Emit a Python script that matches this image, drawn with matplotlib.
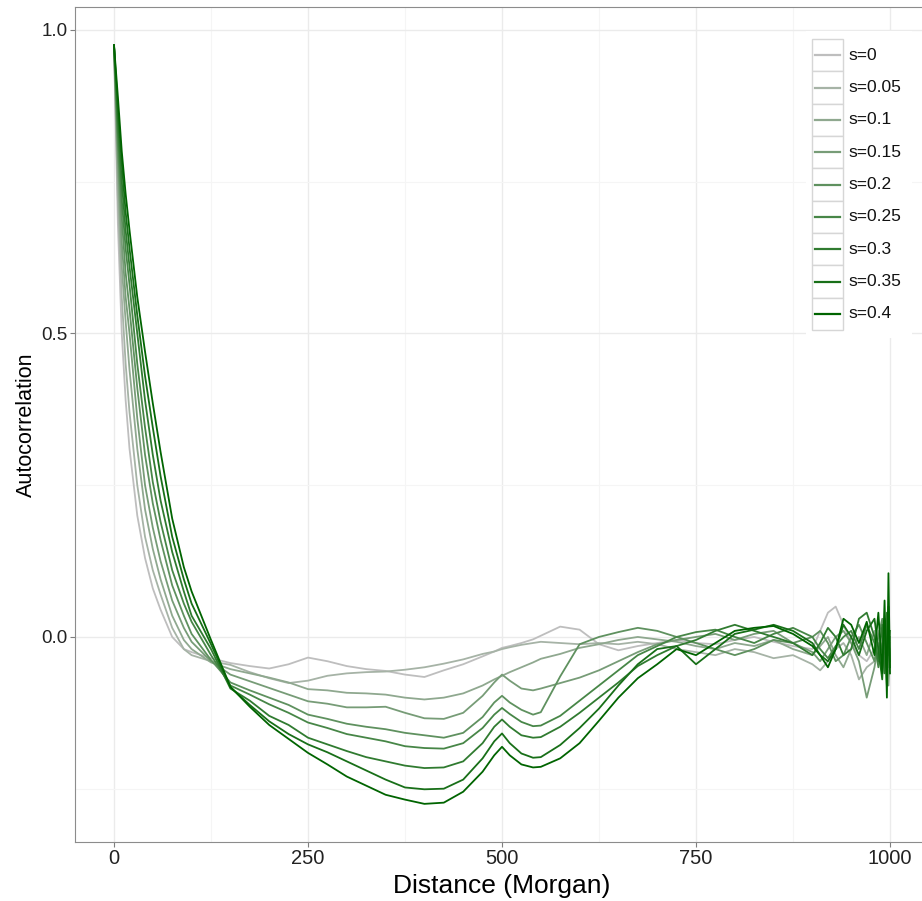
import matplotlib
matplotlib.use('Agg')
from matplotlib import pyplot as plt
from matplotlib.patches import Rectangle
from matplotlib.lines import Line2D
import numpy as np

plt.rcParams['font.family'] = ['Liberation Sans', 'DejaVu Sans']

# distance in Morgan (shared x positions of all curves)
distance = [0, 5, 10, 15, 20, 30, 40, 50, 60, 75, 90, 100, 125, 150, 175, 200,
            225, 250, 275, 300, 325, 350, 375, 400, 425, 450, 475, 490, 500,
            510, 525, 540, 550, 575, 600, 625, 650, 675, 700, 725, 750,
            775, 800, 825, 850, 875, 900,
            910, 920, 930, 940, 950, 960, 970, 980, 985, 990, 993, 996, 998, 1000]

s_labels = ['s=0', 's=0.05', 's=0.1', 's=0.15', 's=0.2', 's=0.25', 's=0.3', 's=0.35', 's=0.4']

acf_s0 = [0.975, 0.68, 0.50, 0.39, 0.31, 0.20, 0.13, 0.08, 0.045, 0.0, -0.02, -0.025, -0.035, -0.043, -0.048, -0.052,
          -0.045, -0.034, -0.04, -0.048, -0.053, -0.056, -0.062, -0.066, -0.055, -0.045, -0.032, -0.024, -0.018,
          -0.015, -0.01, -0.004, 0.002, 0.017, 0.012, -0.012, -0.022, -0.015, -0.01, -0.005, -0.01,
          -0.012, -0.005, 0.0, -0.008, -0.015, -0.02,
          0.01, 0.04, 0.05, 0.02, -0.01, -0.03, -0.04, -0.02, 0.01, -0.03, 0.02, -0.06, 0.0, -0.02]
acf_s005 = [0.975, 0.72, 0.56, 0.45, 0.37, 0.25, 0.165, 0.11, 0.07, 0.015, -0.02, -0.03, -0.04, -0.046, -0.058, -0.068,
            -0.076, -0.072, -0.064, -0.06, -0.058, -0.057, -0.054, -0.05, -0.044, -0.037, -0.028, -0.024, -0.02,
            -0.017, -0.013, -0.01, -0.008, -0.01, -0.012, -0.01, -0.012, -0.008, -0.012, -0.02, -0.025,
            -0.03, -0.02, -0.025, -0.035, -0.03, -0.045,
            -0.055, -0.04, -0.02, -0.01, -0.03, -0.07, -0.05, -0.04, -0.02, -0.01, -0.05, 0.0, -0.03, -0.01]
acf_s01 = [0.975, 0.76, 0.61, 0.52, 0.44, 0.31, 0.21, 0.145, 0.095, 0.035, -0.005, -0.02, -0.042, -0.053, -0.06, -0.067,
           -0.075, -0.086, -0.088, -0.092, -0.093, -0.095, -0.1, -0.103, -0.1, -0.093, -0.08, -0.07, -0.064,
           -0.058, -0.05, -0.042, -0.036, -0.028, -0.018, -0.012, -0.005, 0.0, -0.004, -0.008, -0.015,
           -0.02, -0.01, -0.015, -0.005, -0.02, -0.03,
           -0.015, 0.0, -0.03, -0.05, -0.02, 0.0, -0.03, 0.01, -0.03, 0.015, -0.04, -0.02, 0.02, -0.03]
acf_s015 = [0.975, 0.79, 0.65, 0.56, 0.50, 0.36, 0.25, 0.18, 0.125, 0.06, 0.015, -0.008, -0.04, -0.062, -0.073, -0.084,
            -0.095, -0.106, -0.11, -0.116, -0.116, -0.115, -0.125, -0.134, -0.135, -0.125, -0.097, -0.075, -0.062,
            -0.072, -0.085, -0.088, -0.085, -0.076, -0.067, -0.055, -0.04, -0.025, -0.012, -0.005, 0.0,
            0.005, -0.005, 0.005, 0.01, -0.01, -0.025,
            -0.04, -0.02, 0.0, 0.01, -0.01, -0.04, -0.1, -0.05, -0.01, -0.06, 0.0, -0.04, -0.08, -0.02]
acf_s02 = [0.975, 0.81, 0.69, 0.60, 0.54, 0.41, 0.30, 0.22, 0.16, 0.085, 0.035, 0.005, -0.038, -0.075, -0.088, -0.1,
           -0.112, -0.128, -0.135, -0.143, -0.148, -0.152, -0.158, -0.162, -0.166, -0.158, -0.132, -0.108, -0.097,
           -0.108, -0.12, -0.128, -0.124, -0.065, -0.012, 0.0, 0.008, 0.015, 0.01, 0.0, -0.01,
           -0.02, -0.03, -0.02, -0.005, -0.01, 0.0,
           0.01, -0.01, -0.04, -0.03, 0.0, 0.02, -0.01, -0.04, 0.0, 0.03, -0.02, 0.01, -0.05, 0.0]
acf_s025 = [0.975, 0.83, 0.72, 0.64, 0.58, 0.45, 0.345, 0.255, 0.19, 0.11, 0.055, 0.025, -0.03, -0.08, -0.095, -0.111,
            -0.125, -0.141, -0.15, -0.16, -0.166, -0.172, -0.18, -0.183, -0.184, -0.175, -0.15, -0.128, -0.117,
            -0.127, -0.14, -0.147, -0.146, -0.13, -0.105, -0.08, -0.055, -0.03, -0.015, 0.0, 0.008,
            0.012, 0.0, -0.01, 0.005, 0.015, 0.0,
            -0.02, -0.035, -0.015, 0.0, 0.01, -0.02, 0.02, -0.01, -0.05, -0.01, 0.03, -0.03, 0.01, -0.04]
acf_s03 = [0.975, 0.85, 0.75, 0.67, 0.61, 0.50, 0.39, 0.30, 0.225, 0.14, 0.075, 0.035, -0.02, -0.085, -0.105, -0.13,
           -0.145, -0.166, -0.177, -0.188, -0.198, -0.205, -0.212, -0.216, -0.215, -0.205, -0.175, -0.148, -0.136,
           -0.148, -0.162, -0.166, -0.165, -0.148, -0.125, -0.1, -0.075, -0.048, -0.03, -0.015, -0.005,
           0.01, 0.02, 0.01, 0.0, -0.01, -0.03,
           -0.01, 0.015, 0.0, -0.03, -0.02, 0.03, 0.04, 0.0, -0.04, 0.02, -0.06, 0.04, -0.03, 0.01]
acf_s035 = [0.975, 0.87, 0.78, 0.70, 0.64, 0.53, 0.43, 0.345, 0.265, 0.165, 0.095, 0.055, -0.012, -0.083, -0.112, -0.139,
            -0.16, -0.177, -0.19, -0.205, -0.22, -0.235, -0.248, -0.251, -0.25, -0.235, -0.2, -0.172, -0.159,
            -0.175, -0.192, -0.199, -0.198, -0.178, -0.15, -0.118, -0.08, -0.045, -0.02, -0.015, -0.045,
            -0.02, 0.005, 0.012, 0.02, 0.01, -0.01,
            -0.03, -0.04, -0.02, 0.02, 0.0, -0.03, 0.01, 0.03, -0.02, -0.07, 0.03, -0.08, 0.05, -0.05]
acf_s04 = [0.975, 0.89, 0.80, 0.73, 0.67, 0.56, 0.47, 0.385, 0.305, 0.195, 0.115, 0.075, -0.005, -0.082, -0.115, -0.145,
           -0.168, -0.191, -0.21, -0.23, -0.245, -0.26, -0.268, -0.275, -0.273, -0.255, -0.222, -0.195, -0.181,
           -0.195, -0.21, -0.215, -0.214, -0.2, -0.175, -0.138, -0.1, -0.068, -0.045, -0.02, -0.03,
           -0.01, 0.01, 0.015, 0.018, 0.005, -0.015,
           -0.03, -0.05, -0.02, 0.03, 0.02, -0.01, 0.025, -0.03, 0.04, -0.06, 0.06, -0.1, 0.105, -0.06]

curves = [acf_s0, acf_s005, acf_s01, acf_s015, acf_s02, acf_s025, acf_s03, acf_s035, acf_s04]

# grey -> darkgreen gradient
low = np.array([190, 190, 190]) / 255.
high = np.array([0, 100, 0]) / 255.
colors = [tuple(low + (high - low) * t) for t in np.linspace(0, 1, len(curves))]

W, H = 922, 901
fig = plt.figure(figsize=(W / 100, H / 100), dpi=100)
ax = fig.add_axes([75.2 / W, 1 - 841.8 / H, (928.8 - 75.2) / W, (841.8 - 7.2) / H])

for ys, c in zip(curves, colors):
    ax.plot(distance, ys, color=c, lw=1.3, solid_joinstyle='round')

# ggplot style 5% expansion
xmin, xmax = min(distance), max(distance)
ymin = min(min(c) for c in curves)
ymax = max(max(c) for c in curves)
ax.set_xlim(xmin - 0.05 * (xmax - xmin), xmax + 0.05 * (xmax - xmin))
ax.set_ylim(ymin - 0.05 * (ymax - ymin), ymax + 0.05 * (ymax - ymin))

ax.set_xticks([0, 250, 500, 750, 1000])
ax.set_xticks([125, 375, 625, 875], minor=True)
ax.set_yticks([0.0, 0.5, 1.0])
ax.set_yticklabels(['0.0', '0.5', '1.0'])
ax.set_yticks([-0.25, 0.25, 0.75], minor=True)
ax.grid(which='major', color='#ebebeb', lw=1.0)
ax.grid(which='minor', color='#f5f5f5', lw=0.8)
ax.set_axisbelow(True)
ax.tick_params(which='major', length=3.5, width=0.8, color='#7f7f7f', pad=2)
ax.tick_params(which='minor', length=0)
ax.tick_params(axis='x', labelsize=14.5, labelcolor='#222222')
ax.tick_params(axis='y', labelsize=13.5, labelcolor='#222222')
for side in ['left', 'top', 'right', 'bottom']:
    ax.spines[side].set_color('#8c8c8c')
    ax.spines[side].set_linewidth(0.8)

ax.set_xlabel('Distance (Morgan)', fontsize=19, labelpad=4)
ax.set_ylabel('Autocorrelation', fontsize=15.5, labelpad=3)

# legend drawn ggplot-like with boxed keys
def fx(px):
    return px / W

def fy(py):
    return 1 - py / H

fig.patches.append(Rectangle((fx(806), fy(338)), fx(912) - fx(806), fy(31) - fy(338),
                             transform=fig.transFigure, facecolor='white', edgecolor='none', zorder=2))
key_top, key_h = 39, 32.35
for i, (lab, c) in enumerate(zip(s_labels, colors)):
    top = key_top + i * key_h
    fig.patches.append(Rectangle((fx(812), fy(top + key_h)), fx(843) - fx(812), fy(top) - fy(top + key_h),
                                 transform=fig.transFigure, facecolor='white', edgecolor='#d6d6d6',
                                 lw=1.0, zorder=3))
    mid = top + key_h / 2
    fig.lines.append(Line2D([fx(815), fx(840)], [fy(mid), fy(mid)], transform=fig.transFigure,
                            color=c, lw=1.6, zorder=4))
    fig.text(fx(848), fy(mid), lab, fontsize=12.5, va='center', ha='left', color='#111111', zorder=5)

fig.savefig('out.png', dpi=100)
